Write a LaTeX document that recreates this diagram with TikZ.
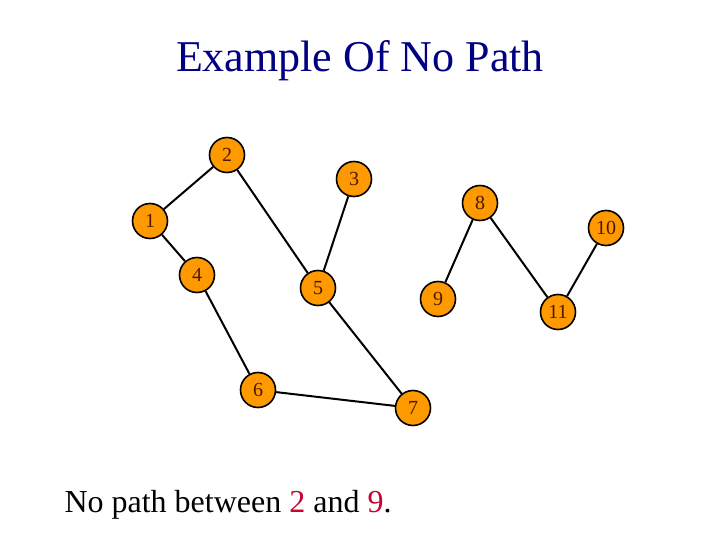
\documentclass[tikz,border=0pt]{standalone}
\usepackage{xcolor}
\usepackage{tikz}
\usepackage{fontspec}
\setmainfont{Liberation Serif}
\definecolor{gnodeorange}{HTML}{FF9900}
\definecolor{gnodetext}{HTML}{4D1A00}
\definecolor{gtitleblue}{HTML}{000080}
\definecolor{gpathred}{HTML}{CC0033}

\tikzset{
  gnode/.style={circle,draw=black,line width=1.6pt,fill=gnodeorange,
    minimum size=35pt,inner sep=0pt,text=gnodetext,
    font=\fontsize{20}{20}\selectfont},
  gedge/.style={black,line width=2pt}
}

\begin{document}
\begin{tikzpicture}[x=1pt,y=-1pt]
  \useasboundingbox (0,0) rectangle (720,540);
  \node[text=gtitleblue,font=\fontsize{44}{44}\selectfont] (title) at (360,61) {Example Of No Path};
  \node[gnode] (n1) at (150,221) {\raisebox{-2pt}{1}};
  \node[gnode] (n2) at (227,155) {\raisebox{-2pt}{2}};
  \node[gnode] (n3) at (354,179) {\raisebox{-2pt}{3}};
  \node[gnode] (n4) at (197,275) {\raisebox{-2pt}{4}};
  \node[gnode] (n5) at (318,288) {\raisebox{-2pt}{5}};
  \node[gnode] (n6) at (258,390) {\raisebox{-2pt}{6}};
  \node[gnode] (n7) at (413,408) {\raisebox{-2pt}{7}};
  \node[gnode] (n8) at (480,203) {\raisebox{-2pt}{8}};
  \node[gnode] (n9) at (438,299) {\raisebox{-2pt}{9}};
  \node[gnode] (n10) at (606,228) {\raisebox{-2pt}{10}};
  \node[gnode] (n11) at (558,312) {\raisebox{-2pt}{11}};
  \draw[gedge] (n1) -- (n2);
  \draw[gedge] (n1) -- (n4);
  \draw[gedge] (n2) -- (n5);
  \draw[gedge] (n3) -- (n5);
  \draw[gedge] (n4) -- (n6);
  \draw[gedge] (n6) -- (n7);
  \draw[gedge] (n5) -- (n7);
  \draw[gedge] (n8) -- (n9);
  \draw[gedge] (n8) -- (n11);
  \draw[gedge] (n10) -- (n11);
  \node[anchor=base west,font=\fontsize{32}{32}\selectfont] (note) at (61,512)
    {No path between \textcolor{gpathred}{2} and \textcolor{gpathred}{9}.};
\end{tikzpicture}
\end{document}
